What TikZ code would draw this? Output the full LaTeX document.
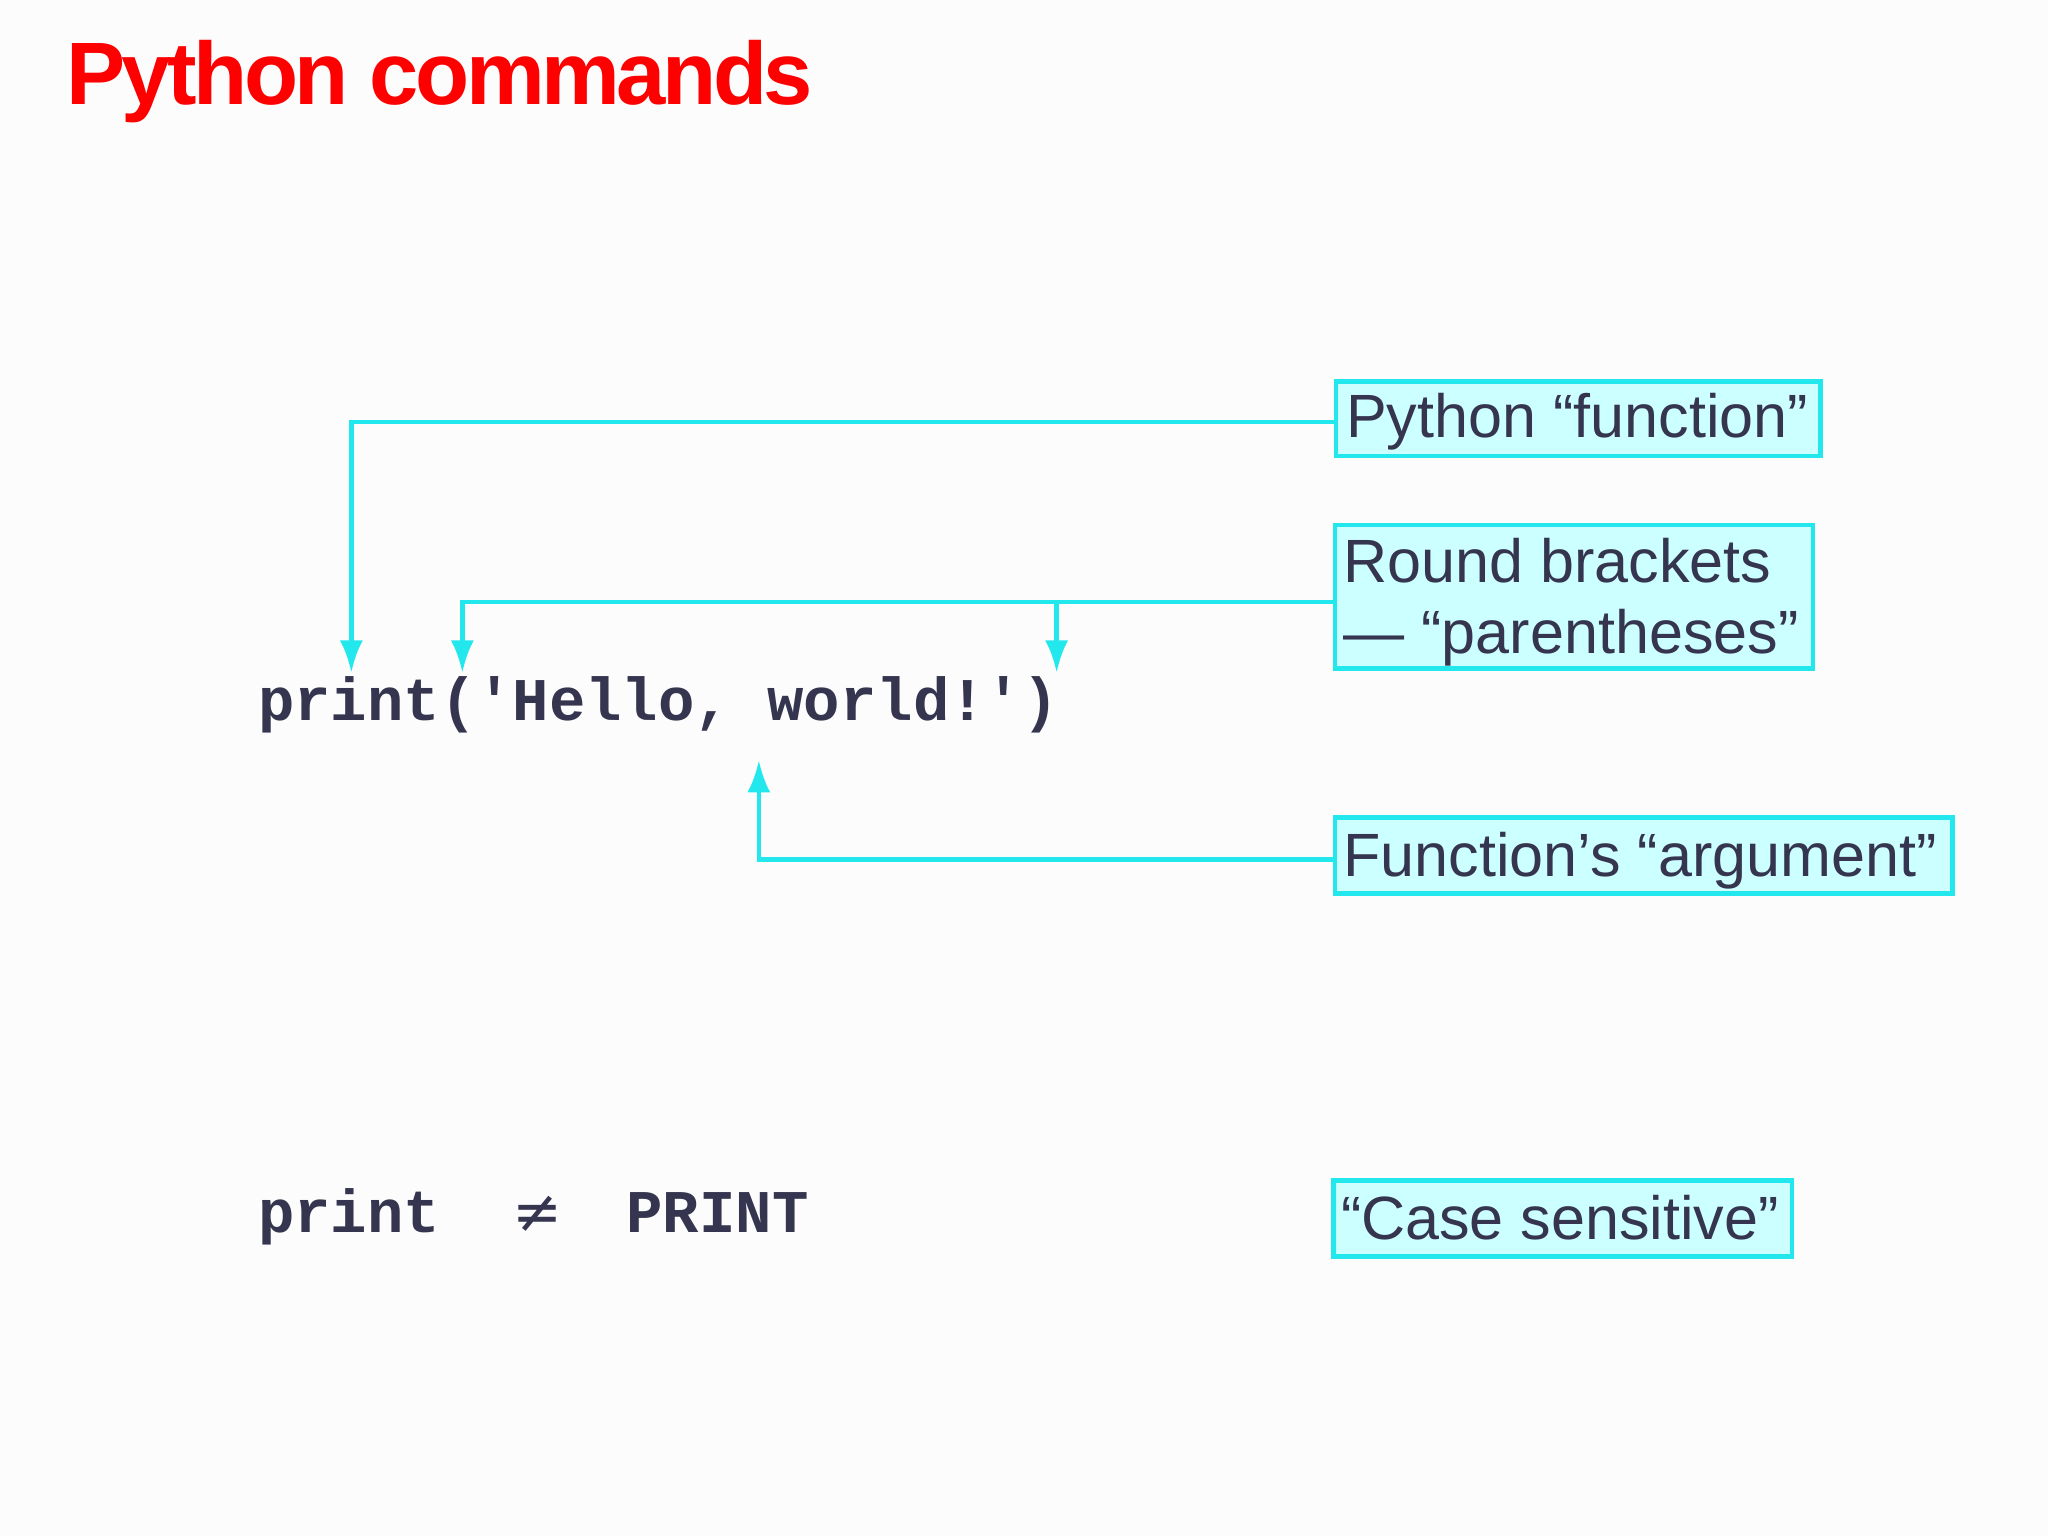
\documentclass[tikz,border=0pt]{standalone}
\usepackage{fontspec}
\setmainfont{Liberation Sans}
\newfontfamily\codefont{Liberation Mono}
\newfontfamily\symfont{DejaVu Sans}
\usetikzlibrary{arrows.meta}
\definecolor{ink}{HTML}{35354F}
\definecolor{cy}{HTML}{22E8EE}
\definecolor{cyfill}{HTML}{CCFFFF}
\definecolor{bg}{HTML}{FCFCFD}
\tikzset{
  box/.style={draw=cy, line width=1pt, fill=cyfill},
  lbl/.style={text=ink, font=\fontsize{13.3pt}{15.5pt}\selectfont, inner sep=0pt, anchor=base west},
  code/.style={text=ink, font=\codefont\bfseries\fontsize{13.2pt}{15pt}\selectfont, inner sep=0pt, anchor=base west},
  conn/.style={draw=cy, line width=1pt},
  arr/.style={conn, -{Latex[length=7pt,width=5pt]}}
}
\begin{document}
\begin{tikzpicture}[x=0.01cm,y=-0.01cm]
\fill[bg] (0,0) rectangle (1568,1176);
\node[anchor=base west, inner sep=0pt, text=red, font=\bfseries\fontsize{19.3pt}{22pt}\selectfont] (title) at (50,80) {\addfontfeature{LetterSpace=-4}Python commands};
\node[code] (c1) at (197,552) {print('Hello, world!')};
\node[code] (c2a) at (197,944) {print};
\node[text=ink, font=\symfont\fontsize{13pt}{15pt}\selectfont, inner sep=0pt, anchor=base west] (ne) at (392,944) {≠};
\node[code] (c2b) at (479,944) {PRINT};
\draw[box] (1023,292) rectangle (1394,349);
\node[lbl] (t1) at (1030,335) {Python “function”};
\draw[box] (1022,402) rectangle (1388,512);
\node[lbl] (t2) at (1028,446) {Round brackets};
\node[lbl] (t2b) at (1028,500) {— “parentheses”};
\draw[box] (1022,626) rectangle (1495,684);
\node[lbl] (t3) at (1028,671) {Function’s “argument”};
\draw[box] (1021,904) rectangle (1372,962);
\node[lbl] (t4) at (1026,949) {“Case sensitive”};
\coordinate (p1) at (1023,323);
\coordinate (p2) at (1022,461);
\coordinate (p3) at (1022,658);
\draw[arr] (p1) -- (269,323) -- (269,515);
\draw[arr] (p2) -- (354,461) -- (354,515);
\draw[arr] (809,461) -- (809,515);
\draw[arr] (p3) -- (581,658) -- (581,582);
\end{tikzpicture}
\end{document}
